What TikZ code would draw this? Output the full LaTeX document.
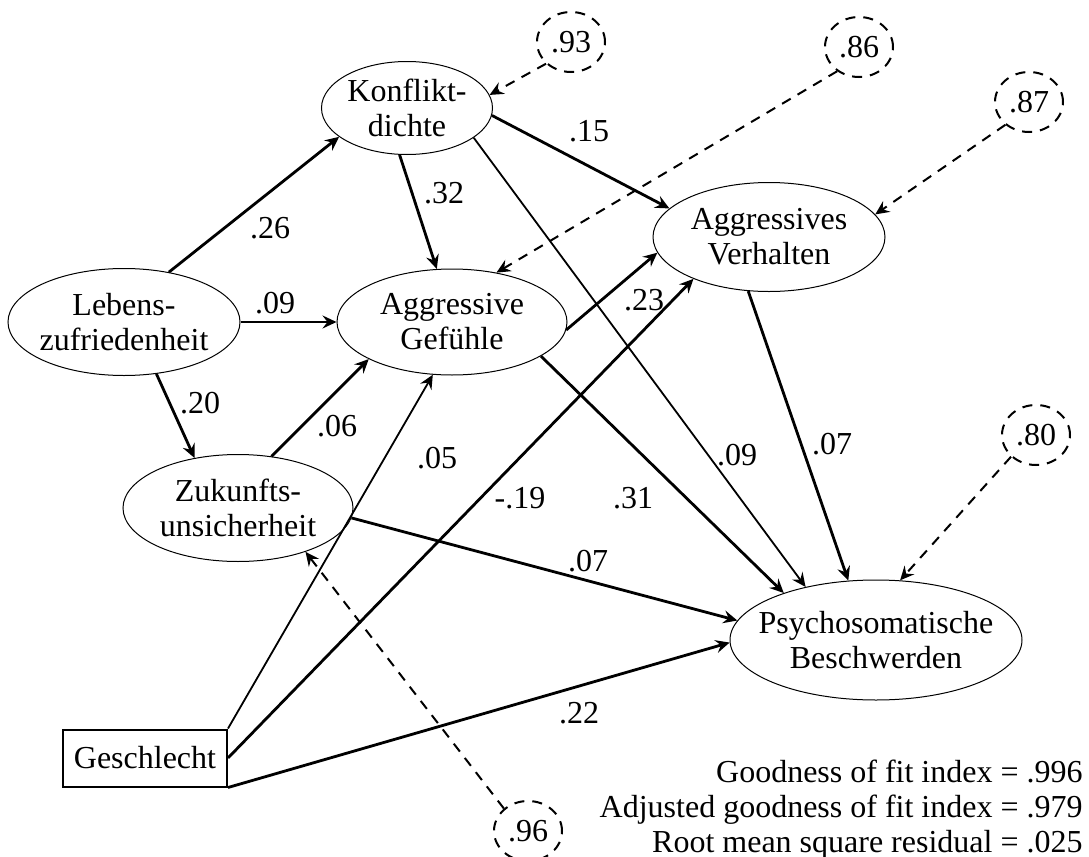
\documentclass[tikz,border=0pt]{standalone}
\usepackage{fontspec}
\setmainfont{Liberation Serif}
\usetikzlibrary{shapes,arrows.meta,positioning}
\tikzset{>={Stealth[length=7pt,width=6.5pt,inset=2.5pt]}}

\begin{document}
\begin{tikzpicture}[x=0.5pt,y=-0.5pt,
                    font=\fontsize{16}{17.5}\selectfont,
                    latent/.style={ellipse, draw, line width=0.5pt, inner sep=-20pt, align=center},
                    manifest/.style={rectangle, draw, line width=1pt, minimum width=82pt, minimum height=28.5pt, inner sep=0pt},
                    resid/.style={ellipse, draw, line width=1pt, dash pattern=on 5pt off 4pt, minimum width=34pt, minimum height=30pt, inner sep=0pt},
                    effect/.style={->, line width=1.4pt},
                    weakeffect/.style={->, line width=0.9pt},
                    errline/.style={->, line width=1pt, dash pattern=on 5pt off 4pt},
                    coef/.style={inner sep=1pt},
                   ]

\useasboundingbox (0,0) rectangle (1089,857);

% variables
\node[latent, minimum width=85.5pt, minimum height=46.5pt] (konf) at (407,108) {Konflikt-\\dichte};
\node[latent, minimum width=116pt, minimum height=53.5pt] (leben) at (124,322) {Lebens-\\zufriedenheit};
\node[latent, minimum width=115pt, minimum height=53pt] (aggef) at (452,322) {Aggressive\\Gefühle};
\node[latent, minimum width=116pt, minimum height=54.5pt] (aggver) at (769,237) {Aggressives\\Verhalten};
\node[latent, minimum width=115pt, minimum height=53.5pt] (zuk) at (238,508) {Zukunfts-\\unsicherheit};
\node[latent, minimum width=146pt, minimum height=60pt] (psy) at (876,640) {Psychosomatische\\Beschwerden};
\node[manifest] (gesch) at (145,758) {Geschlecht};

% residuals
\node[resid] (r93) at (571,42) {.93};
\node[resid] (r86) at (859,47) {.86};
\node[resid] (r87) at (1029,102) {.87};
\node[resid] (r80) at (1036,435) {.80};
\node[resid] (r96) at (528,831) {.96};

% paths
\draw[effect] (leben.48) -- (konf.203);
\draw[effect] (leben.east) -- (aggef.west);
\draw[effect] (leben.302) -- (zuk.131);
\draw[effect] (konf.261) -- (aggef.106);
\draw[effect] (konf.355) -- (aggver.164);
\draw[weakeffect] (konf.336) -- (psy.143);
\draw[effect] (aggef.356) -- (aggver.188);
\draw[effect] (aggef.339) -- (psy.153);
\draw[effect] (aggver.249) -- (psy.115);
\draw[effect] (zuk.57) -- (aggef.204);
\draw[effect] (zuk.355) -- (psy.172);
\draw[weakeffect] (gesch.north east) -- (aggef.250);
\draw[effect] (gesch.east) -- (aggver.209);
\draw[effect] (gesch.south east) -- (psy.181);

\draw[errline] (r93.221) -- (konf.9);
\draw[errline] (r86.228) -- (aggef.48);
\draw[errline] (r87.224) -- (aggver.12);
\draw[errline] (r80.221) -- (psy.68);
\draw[errline] (r96.137) -- (zuk.327);

% coefficients
\node[coef] (c26) at (270,228) {.26};
\node[coef] (c09a) at (275,303) {.09};
\node[coef] (c20) at (200,403) {.20};
\node[coef] (c32) at (444,193) {.32};
\node[coef] (c15) at (589,131) {.15};
\node[coef] (c09b) at (737,455) {.09};
\node[coef] (c23) at (644,300) {.23};
\node[coef] (c31) at (633,498) {.31};
\node[coef] (c07a) at (832,444) {.07};
\node[coef] (c06) at (337,426) {.06};
\node[coef] (c07b) at (588,561) {.07};
\node[coef] (c05) at (437,458) {.05};
\node[coef] (c19) at (520,498) {-.19};
\node[coef] (c22) at (579,713) {.22};

\node[anchor=east, align=right, inner sep=0pt] (fit) at (1083,810) {Goodness of fit index = .996\\Adjusted goodness of fit index = .979\\Root mean square residual = .025};

\end{tikzpicture}
\end{document}
